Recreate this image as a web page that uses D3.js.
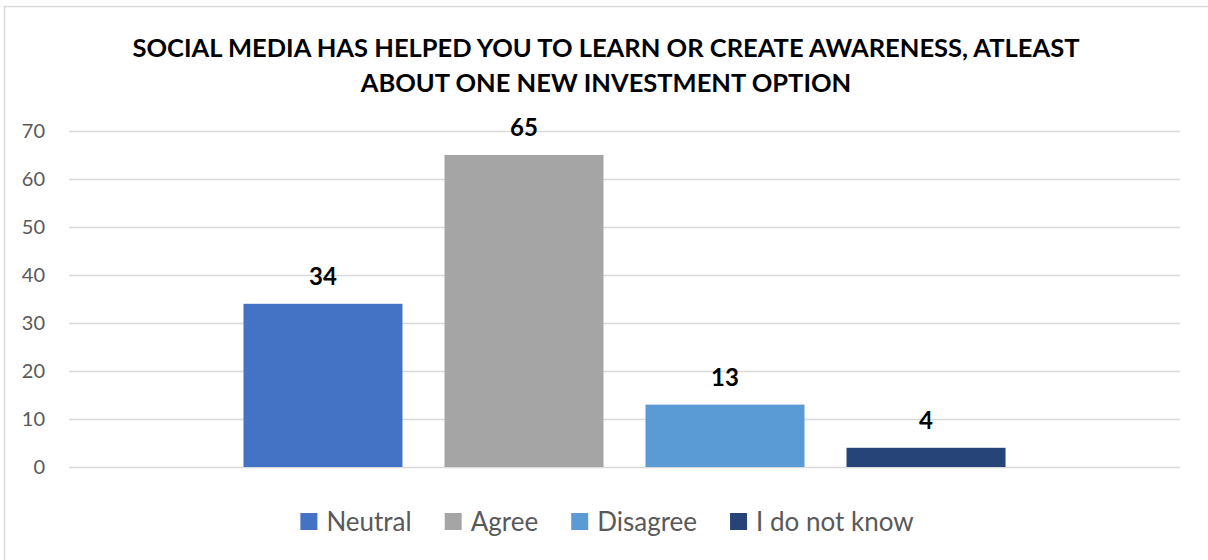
<!DOCTYPE html>
<html>
<head>
<meta charset="utf-8">
<script src="https://cdn.jsdelivr.net/npm/d3@7"></script>
<style>
  html, body { margin: 0; padding: 0; background: #ffffff; }
  svg { display: block; font-family: Lato, "Open Sans", sans-serif; }
</style>
</head>
<body>
<svg id="chart" width="1208" height="560"></svg>
<script>
// Survey responses, one bar per answer
const categories = ["Neutral", "Agree", "Disagree", "I do not know"];
const values = [34, 65, 13, 4];
const colors = ["#4472C4", "#A5A5A5", "#5B9BD5", "#264478"];
const yTicks = [0, 10, 20, 30, 40, 50, 60, 70];
const titleLines = [
  "SOCIAL MEDIA HAS HELPED YOU TO LEARN OR CREATE AWARENESS, ATLEAST",
  "ABOUT ONE NEW INVESTMENT OPTION"
];

const svg = d3.select("#chart");
const W = 1208, H = 560;
const plot = { left: 69, right: 1180, top: 131, bottom: 467 };

// chart area frame (left and top edges visible)
svg.append("path")
  .attr("d", `M4.5,${H} V6.5 H${W}`)
  .attr("fill", "none")
  .attr("stroke", "#d9d9d9")
  .attr("stroke-width", 1.5);

// title: size the first line to span its box, use the same size for both lines
const titleSpan = 947;
const title = svg.append("g");
const titleTexts = titleLines.map((line, i) => title.append("text")
  .attr("x", 606)
  .attr("y", 57 + i * 35)
  .attr("text-anchor", "middle")
  .attr("font-size", 24)
  .attr("font-weight", 700)
  .attr("fill", "#000")
  .text(line));
const natural = titleTexts[0].node().getComputedTextLength();
const titleSize = 24 * titleSpan / natural;
titleTexts.forEach(t => t.attr("font-size", titleSize));

// scales
const x = d3.scaleBand()
  .domain(categories)
  .range([plot.left, plot.right])
  .paddingInner(0.209)
  .paddingOuter(0.868);

const y = d3.scaleLinear()
  .domain([0, 70])
  .range([plot.bottom, plot.top]);

// horizontal gridlines
svg.append("g")
  .attr("transform", `translate(${plot.left},0)`)
  .call(d3.axisLeft(y).tickValues(yTicks).tickSize(-(plot.right - plot.left)).tickFormat(""))
  .call(g => g.select(".domain").remove())
  .call(g => g.selectAll(".tick line").attr("stroke", "#d9d9d9").attr("stroke-width", 1.5));

// y-axis labels
svg.append("g")
  .attr("transform", `translate(${plot.left},0)`)
  .call(d3.axisLeft(y).tickValues(yTicks).tickSize(0).tickPadding(24))
  .call(g => g.select(".domain").remove())
  .call(g => g.selectAll(".tick text")
    .attr("fill", "#595959")
    .attr("font-size", 20)
    .attr("font-family", "Lato, sans-serif"));

// bars
svg.append("g").selectAll("rect")
  .data(categories)
  .join("rect")
  .attr("x", d => x(d))
  .attr("width", x.bandwidth())
  .attr("y", (d, i) => y(values[i]))
  .attr("height", (d, i) => y(0) - y(values[i]))
  .attr("fill", (d, i) => colors[i]);

// value labels
svg.append("g").selectAll("text")
  .data(categories)
  .join("text")
  .attr("x", d => x(d) + x.bandwidth() / 2)
  .attr("y", (d, i) => y(values[i]) - 19)
  .attr("text-anchor", "middle")
  .attr("font-size", 24)
  .attr("font-weight", 700)
  .attr("fill", "#000")
  .text((d, i) => values[i]);

// legend, centred under the plot
const legend = svg.append("g");
const sw = 17, swGap = 9, itemGap = 33;
const items = legend.selectAll("g")
  .data(categories)
  .join("g");
items.append("rect")
  .attr("width", sw).attr("height", sw)
  .attr("y", 513)
  .attr("fill", (d, i) => colors[i]);
items.append("text")
  .attr("x", sw + swGap)
  .attr("y", 531)
  .attr("font-size", 26)
  .attr("fill", "#595959")
  .text(d => d);
let cursor = 0;
const offsets = [];
items.each(function () {
  offsets.push(cursor);
  const tw = d3.select(this).select("text").node().getComputedTextLength();
  cursor += sw + swGap + tw + itemGap;
});
const total = cursor - itemGap;
const startX = 607 - total / 2;
items.attr("transform", (d, i) => `translate(${startX + offsets[i]},0)`);
</script>
</body>
</html>
